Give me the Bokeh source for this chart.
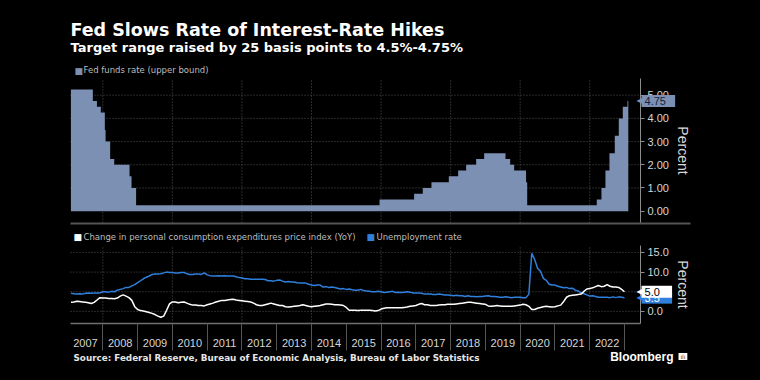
import pandas as pd
from bokeh.plotting import figure
from bokeh.models import Range1d, FixedTicker, Label, NumeralTickFormatter, LinearAxis
from bokeh.embed import file_html
from bokeh.resources import INLINE

# ---------------- data ----------------
rate_change_dates = ["2007-01-31", "2007-09-18", "2007-10-31", "2007-12-11", "2008-01-22",
                     "2008-01-30", "2008-03-18", "2008-04-30", "2008-10-08", "2008-10-29",
                     "2008-12-16", "2015-12-16", "2016-12-14", "2017-03-15", "2017-06-14",
                     "2017-12-13", "2018-03-21", "2018-06-13", "2018-09-26", "2018-12-19",
                     "2019-07-31", "2019-09-18", "2019-10-30", "2020-03-03", "2020-03-15",
                     "2022-03-16", "2022-05-04", "2022-06-15", "2022-07-27", "2022-09-21",
                     "2022-11-02", "2022-12-14", "2023-02-01"]
rate_levels = [5.25, 4.75, 4.50, 4.25, 3.50, 3.00, 2.25, 2.00, 1.50, 1.00,
               0.25, 0.50, 0.75, 1.00, 1.25, 1.50, 1.75, 2.00, 2.25, 2.50,
               2.25, 2.00, 1.75, 1.25, 0.25, 0.50, 1.00, 1.75, 2.50, 3.25,
               4.00, 4.50, 4.75]
rate_end_date = "2023-02-10"

years = list(range(2007, 2023))

pce_yoy = [
    2.3, 2.4, 2.6, 2.5, 2.4, 2.3, 2.2, 2.0, 2.3, 2.9, 3.5, 3.4,   # 2007
    3.4, 3.3, 3.3, 3.2, 3.4, 3.9, 4.2, 3.9, 3.5, 2.8, 1.2, 0.5,   # 2008
    0.2, 0.1, -0.1, -0.3, -0.5, -0.8, -1.2, -1.5, -1.2, 0.3, 1.9, 2.4,  # 2009
    2.4, 2.2, 2.3, 2.4, 2.1, 1.8, 1.6, 1.6, 1.5, 1.5, 1.4, 1.7,   # 2010
    1.9, 2.1, 2.4, 2.6, 2.8, 2.8, 2.9, 3.0, 3.1, 2.9, 2.8, 2.7,   # 2011
    2.6, 2.5, 2.4, 2.1, 1.7, 1.5, 1.5, 1.7, 1.9, 2.1, 1.9, 1.7,   # 2012
    1.5, 1.5, 1.2, 1.1, 1.2, 1.3, 1.4, 1.5, 1.7, 1.5, 1.3, 1.2,   # 2013
    1.3, 1.4, 1.5, 1.7, 1.9, 1.9, 1.8, 1.7, 1.7, 1.6, 1.5, 1.0,   # 2014
    0.3, 0.3, 0.3, 0.2, 0.3, 0.3, 0.3, 0.3, 0.2, 0.1, 0.2, 0.6,   # 2015
    0.8, 0.9, 0.9, 0.9, 0.9, 0.9, 0.9, 1.0, 1.1, 1.3, 1.4, 1.5,   # 2016
    1.8, 2.0, 1.7, 1.7, 1.5, 1.5, 1.5, 1.6, 1.7, 1.7, 1.8, 1.8,   # 2017
    1.8, 1.9, 2.0, 2.1, 2.2, 2.3, 2.3, 2.2, 2.1, 2.0, 1.9, 1.8,   # 2018
    1.4, 1.3, 1.4, 1.5, 1.4, 1.3, 1.3, 1.3, 1.3, 1.4, 1.5, 1.6,   # 2019
    1.8, 1.7, 1.3, 0.5, 0.5, 0.8, 1.0, 1.2, 1.3, 1.2, 1.1, 1.2,   # 2020
    1.4, 1.6, 2.5, 3.6, 4.0, 4.1, 4.2, 4.3, 4.4, 5.1, 5.7, 5.8,   # 2021
    6.0, 6.3, 6.6, 6.3, 6.4, 6.8, 6.4, 6.2, 6.2, 6.1, 5.6, 5.0,   # 2022
]

unemployment = [
    4.6, 4.5, 4.4, 4.5, 4.4, 4.6, 4.7, 4.6, 4.7, 4.7, 4.7, 5.0,   # 2007
    5.0, 4.9, 5.1, 5.0, 5.4, 5.6, 5.8, 6.1, 6.1, 6.5, 6.8, 7.3,   # 2008
    7.8, 8.3, 8.7, 9.0, 9.4, 9.5, 9.5, 9.6, 9.8, 10.0, 9.9, 9.9,  # 2009
    9.8, 9.8, 9.9, 9.9, 9.6, 9.4, 9.4, 9.5, 9.5, 9.4, 9.8, 9.3,   # 2010
    9.1, 9.0, 9.0, 9.1, 9.0, 9.1, 9.0, 9.0, 9.0, 8.8, 8.6, 8.5,   # 2011
    8.3, 8.3, 8.2, 8.2, 8.2, 8.2, 8.2, 8.1, 7.8, 7.8, 7.7, 7.9,   # 2012
    8.0, 7.7, 7.5, 7.6, 7.5, 7.5, 7.3, 7.2, 7.2, 7.2, 6.9, 6.7,   # 2013
    6.6, 6.7, 6.7, 6.2, 6.3, 6.1, 6.2, 6.1, 5.9, 5.7, 5.8, 5.6,   # 2014
    5.7, 5.5, 5.4, 5.4, 5.6, 5.3, 5.2, 5.1, 5.0, 5.0, 5.1, 5.0,   # 2015
    4.8, 4.9, 5.0, 5.1, 4.8, 4.9, 4.8, 4.9, 5.0, 4.9, 4.7, 4.7,   # 2016
    4.7, 4.6, 4.4, 4.4, 4.4, 4.3, 4.3, 4.4, 4.3, 4.2, 4.2, 4.1,   # 2017
    4.0, 4.1, 4.0, 4.0, 3.8, 4.0, 3.8, 3.8, 3.7, 3.8, 3.8, 3.9,   # 2018
    4.0, 3.8, 3.8, 3.7, 3.6, 3.6, 3.7, 3.6, 3.5, 3.6, 3.6, 3.6,   # 2019
    3.5, 3.5, 4.4, 14.8, 13.2, 11.0, 10.2, 8.4, 7.9, 6.9, 6.7, 6.7,  # 2020
    6.4, 6.2, 6.0, 6.1, 5.8, 5.9, 5.4, 5.2, 4.7, 4.5, 4.2, 3.9,   # 2021
    4.0, 3.8, 3.6, 3.6, 3.6, 3.6, 3.5, 3.7, 3.5, 3.7, 3.6, 3.5,   # 2022
]

top_ticks = [0, 1, 2, 3, 4, 5]
bottom_ticks = [0, 5, 10, 15]
grid_years = list(range(2008, 2023, 2))

TITLE = "Fed Slows Rate of Interest-Rate Hikes"
SUBTITLE = "Target range raised by 25 basis points to 4.5%-4.75%"
LEGEND_TOP = "Fed funds rate (upper bound)"
LEGEND_PCE = "Change in personal consumption expenditures price index (YoY)"
LEGEND_UNEMP = "Unemployment rate"
SOURCE = "Source: Federal Reserve, Bureau of Economic Analysis, Bureau of Labor Statistics"

# ---------------- derived coordinates ----------------
def dec_year(s):
    t = pd.Timestamp(s)
    n = 366 if t.is_leap_year else 365
    return t.year + (t.dayofyear - 1) / n

step_x, step_y = [], []
bounds = [dec_year(d) for d in rate_change_dates] + [dec_year(rate_end_date)]
for i, lv in enumerate(rate_levels):
    step_x += [bounds[i], bounds[i + 1]]
    step_y += [lv, lv]

month_x = [y + m / 12 for y in years for m in range(1, 13)]

# ---------------- layout constants ----------------
W, H = 760, 380
BG = "#000000"
AREA = "#7b90b3"
BLUE = "#2f7fdc"
GRID = "#525252"
AXIS = "#8c8c8c"
TXT = "#d6d6d6"
LEG = "#bdbdbd"
FONT = "Liberation Sans"
DV = "DejaVu Sans"
NB = "\u00a0"

# panel frames in page pixels
FL, FR = 70, 640            # left / right of both panels
T_TOP, T_BOT = 78, 222      # top panel
B_TOP, B_BOT = 245, 323     # bottom panel
X0, X1 = 2007.07, 2023.46   # data x at FL / FR
Y0, Y1 = -0.49, 5.72        # top panel data y at T_BOT / T_TOP
B0, B1 = -3.08, 16.77       # bottom panel data y at B_BOT / B_TOP


def sx(px):
    return X0 + (px - FL) / (FR - FL) * (X1 - X0)


def ty(py):
    return Y0 + (T_BOT - py) / (T_BOT - T_TOP) * (Y1 - Y0)


def by(py):
    return B0 + (B_BOT - py) / (B_BOT - B_TOP) * (B1 - B0)


p = figure(width=W, height=H, output_backend="svg", toolbar_location=None,
           x_range=Range1d(sx(0), sx(W)), y_range=Range1d(ty(H), ty(0)),
           x_axis_location=None, y_axis_location=None, min_border=0,
           background_fill_color=BG, border_fill_color=BG, outline_line_color=None)
p.extra_y_ranges = {"bot": Range1d(by(H), by(0))}
p.grid.visible = False


def style_right_axis(ax, ticks, fmt):
    ax.ticker = FixedTicker(ticks=ticks)
    ax.formatter = NumeralTickFormatter(format=fmt)
    ax.axis_line_color = AXIS
    ax.major_tick_line_color = AXIS
    ax.major_tick_out = 4
    ax.major_tick_in = 0
    ax.minor_tick_line_color = None
    ax.major_label_text_color = TXT
    ax.major_label_text_font = FONT
    ax.major_label_text_font_size = "11px"
    ax.major_label_standoff = 3
    ax.axis_label = "Percent"
    ax.axis_label_text_color = TXT
    ax.axis_label_text_font = FONT
    ax.axis_label_text_font_size = "14px"
    ax.axis_label_text_font_style = "normal"
    ax.axis_label_standoff = 3


def lab(x, y, text, size, color, font=DV, bold=False, align="left", bg=None, yr="default"):
    kw = dict(x=x, y=y, text=text, text_font=font, text_font_size=size, text_color=color,
              text_baseline="middle", text_align=align, y_range_name=yr,
              text_font_style="bold" if bold else "normal")
    if bg is not None:
        kw["background_fill_color"] = bg
    p.add_layout(Label(**kw))


# ---------------- top panel ----------------
p.segment(x0=grid_years, x1=grid_years, y0=Y0, y1=Y1, line_color=GRID, line_dash="1 2")
p.segment(x0=X0, x1=X1, y0=top_ticks[1:], y1=top_ticks[1:], line_color=GRID, line_dash="1 2")
p.varea(x=step_x, y1=0, y2=step_y, fill_color=AREA)

ax_top = LinearAxis(fixed_location=X1, bounds=(Y0, Y1))
style_right_axis(ax_top, top_ticks, "0.00")
p.add_layout(ax_top, "right")

# separator under the top panel
ax_sep = LinearAxis(fixed_location=ty(223), bounds=(X0, sx(690)), ticker=FixedTicker(ticks=[]),
                    axis_line_color="#555555", axis_line_width=2,
                    major_tick_line_color=None, minor_tick_line_color=None)
p.add_layout(ax_sep, "below")

# ---------------- bottom panel ----------------
p.segment(x0=grid_years, x1=grid_years, y0=B0, y1=B1, line_color=GRID, line_dash="1 2",
          y_range_name="bot")
p.segment(x0=X0, x1=X1, y0=bottom_ticks, y1=bottom_ticks, line_color=GRID, line_dash="1 2",
          y_range_name="bot")
p.line(x=month_x, y=unemployment, line_color=BLUE, line_width=1.5, y_range_name="bot")
p.line(x=month_x, y=pce_yoy, line_color="white", line_width=1.5, y_range_name="bot")

ax_by = LinearAxis(y_range_name="bot", fixed_location=X1, bounds=(B0, B1))
style_right_axis(ax_by, bottom_ticks, "0.0")
p.add_layout(ax_by, "right")

xa = LinearAxis(y_range_name="bot", fixed_location=B0, bounds=(X0, X1))
xa.ticker = FixedTicker(ticks=[y + 0.5 for y in years], minor_ticks=list(range(2008, 2024)))
xa.major_label_overrides = {y + 0.5: str(y) for y in years}
xa.axis_line_color = "#707070"
xa.axis_line_width = 1.5
xa.major_tick_line_color = None
xa.major_tick_out = 0
xa.major_tick_in = 0
xa.minor_tick_line_color = "#555555"
xa.minor_tick_out = 27
xa.minor_tick_in = 0
xa.major_label_text_color = TXT
xa.major_label_text_font = FONT
xa.major_label_text_font_size = "11px"
xa.major_label_standoff = -12
p.add_layout(xa, "below")

# ---------------- texts ----------------
lab(sx(70), ty(29), TITLE, "17.5px", "white", bold=True)
lab(sx(70), ty(46.5), SUBTITLE, "13px", "white", bold=True)
lab(sx(74), ty(70), "■", "9px", AREA)
lab(sx(83), ty(69.5), LEGEND_TOP, "8.5px", LEG)

lab(sx(73), ty(236.5), "■", "9px", "white")
lab(sx(83), ty(236), LEGEND_PCE, "8.5px", LEG)
lab(sx(366), ty(236.5), "■", "9px", BLUE)
lab(sx(376), ty(236), LEGEND_UNEMP, "8.5px", LEG)

# last-value tags
lab(sx(636), rate_levels[-1], "◀", "8px", AREA)
lab(sx(641), rate_levels[-1], f"{NB}{rate_levels[-1]:.2f}{NB}{NB}{NB}", "11px", "#14233c",
    font=FONT, bg=AREA)
lab(sx(636), unemployment[-1], "◀", "8px", BLUE, yr="bot")
lab(sx(641), unemployment[-1], f"{NB}{unemployment[-1]:.1f}{NB}{NB}{NB}{NB}", "11px", "white",
    font=FONT, bg=BLUE, yr="bot")
lab(sx(636), pce_yoy[-1], "◀", "8px", "white", yr="bot")
lab(sx(641), pce_yoy[-1], f"{NB}{pce_yoy[-1]:.1f}{NB}{NB}{NB}{NB}", "11px", "black",
    font=FONT, bg="white", yr="bot")

lab(sx(73), ty(357), SOURCE, "8.8px", "#e6e6e6", bold=True)
lab(sx(673), ty(356.5), "Bloomberg", "12px", "white", font=FONT, bold=True, align="right")
lab(sx(678), ty(356), f"{NB}ılı{NB}", "6px", "#333333", bg="white")

html = file_html(p, INLINE)
html = html.replace("<body>", '<body style="background-color:#000000;">')
open("out.html", "w").write(html)
